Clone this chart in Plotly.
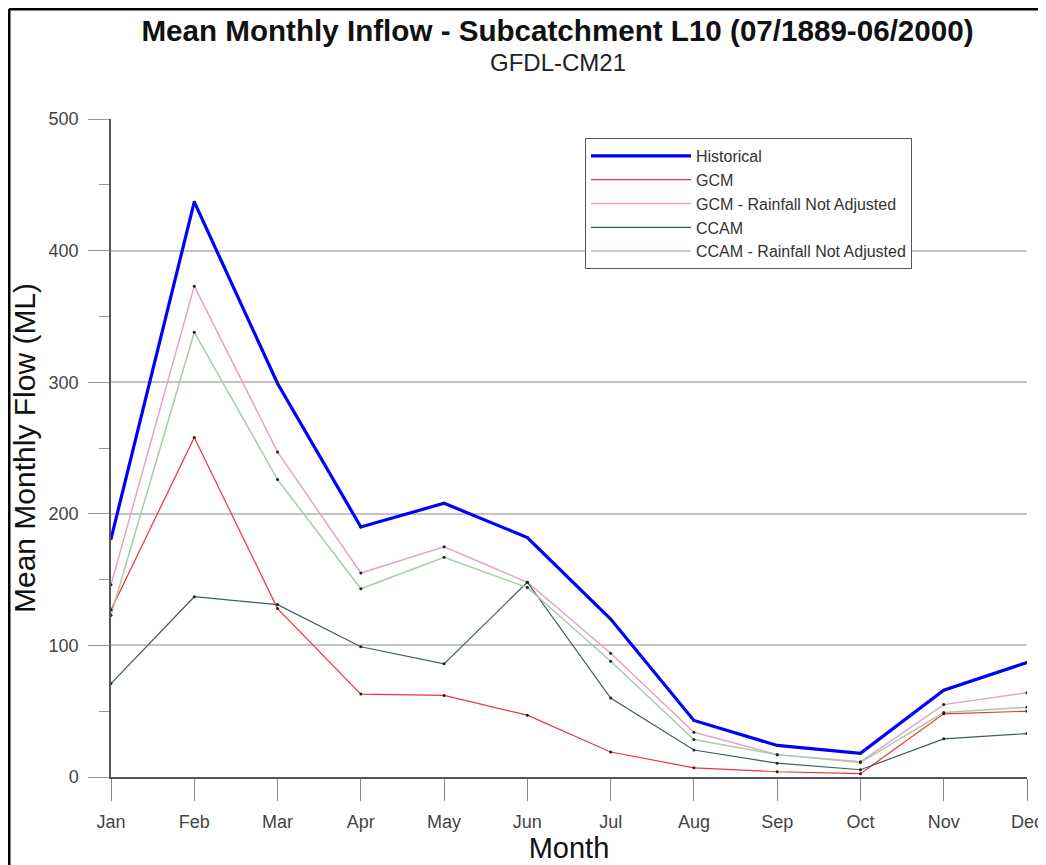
import plotly.graph_objects as go

months = ["Jan", "Feb", "Mar", "Apr", "May", "Jun", "Jul", "Aug", "Sep", "Oct", "Nov", "Dec"]
historical = [181, 437, 299, 190, 208, 182, 120, 43, 24, 18, 66, 87]
gcm = [127, 258, 128, 63, 62, 47, 19, 7, 4, 2.5, 48, 50]
gcm_rna = [146, 373, 247, 155, 175, 148, 94, 34, 17, 11.5, 55, 64]
ccam = [71, 137, 131, 99, 86, 148, 60, 20.5, 10.5, 5.5, 29, 33]
ccam_rna = [123, 338, 226, 143, 167, 144, 88, 28.5, 17, 11, 49, 53]

series = [
    ("Historical", historical, "#0000FF", 3.2),
    ("GCM", gcm, "#EE3535", 1.2),
    ("GCM - Rainfall Not Adjusted", gcm_rna, "#E2A6CC", 1.5),
    ("CCAM", ccam, "#3E5E5A", 1.2),
    ("CCAM - Rainfall Not Adjusted", ccam_rna, "#A9CBA8", 1.5),
]

FONT = "Liberation Sans, Arial, sans-serif"
xs = list(range(len(months)))

fig = go.Figure()
for name, vals, color, w in series:
    fig.add_trace(go.Scatter(
        x=xs, y=vals, name=name, mode="lines",
        line=dict(color=color, width=w), legendgroup=name,
    ))
for name, vals, color, w in series:
    fig.add_trace(go.Scatter(
        x=xs, y=vals, name=name, mode="markers", showlegend=False,
        legendgroup=name, hoverinfo="skip",
        marker=dict(color="#222222", size=3, line=dict(width=0)),
    ))

# the page places the figure 8px from the window's top-left corner
OFF = 8
W, H = 1046 - OFF, 865 - OFF
L, T = 111 - OFF, 119 - OFF
R = W - (1027 - OFF)
B = H - (777 - OFF)
pw, ph = W - L - R, H - T - B

def px2x(px):
    # px: reference (window) pixel
    return (px - OFF - L) / pw

def py2y(py):
    return (H - B - (py - OFF)) / ph

fig.update_layout(
    width=W, height=H,
    margin=dict(l=L, r=R, t=T, b=B, pad=0),
    paper_bgcolor="white", plot_bgcolor="white",
    font=dict(family=FONT, color="#333333"),
    title=dict(
        text="<b>Mean Monthly Inflow - Subcatchment L10 (07/1889-06/2000)</b>",
        font=dict(size=29.6, color="#111111", family=FONT),
        x=(557.5 - OFF) / W, xanchor="center", xref="container",
        y=1 - (31 - OFF) / H, yanchor="middle", yref="container",
    ),
    showlegend=True,
    legend=dict(
        x=px2x(585), y=py2y(138), xanchor="left", yanchor="top",
        bgcolor="white", bordercolor="#555555", borderwidth=1,
        font=dict(size=16, color="#333333", family=FONT),
        itemwidth=100, tracegroupgap=0,
    ),
    xaxis=dict(
        range=[0, 11], tickvals=xs, ticktext=months,
        showgrid=False, zeroline=False,
        showline=True, linecolor="#555555", linewidth=1.5,
        ticks="outside", ticklen=22, tickcolor="#888888", tickwidth=1.2,
        tickfont=dict(size=18, color="#444444"),
        ticklabelstandoff=6,
        title=dict(text="Month", font=dict(size=29, color="#111111"), standoff=2),
        automargin=False,
    ),
    yaxis=dict(
        range=[0, 500], tickvals=[0, 100, 200, 300, 400, 500],
        showgrid=True, gridcolor="#C4C4C4", gridwidth=1.6,
        zeroline=False,
        showline=True, linecolor="#555555", linewidth=1.5,
        ticks="outside", ticklen=21, tickcolor="#999999", tickwidth=1.2,
        tickfont=dict(size=18, color="#444444"),
        ticklabelstandoff=6,
        minor=dict(tickvals=[50, 150, 250, 350, 450], ticks="outside", ticklen=10,
                   tickcolor="#999999", tickwidth=1.2, showgrid=False),
        title=dict(text="Mean Monthly Flow (ML)", font=dict(size=30, color="#111111"), standoff=10),
        automargin=False,
    ),
)

fig.add_annotation(
    text="GFDL-CM21", xref="paper", yref="paper",
    x=px2x(558), y=py2y(62), xanchor="center", yanchor="middle",
    showarrow=False, font=dict(size=24, color="#222222", family=FONT),
)

# outer frame (left and top edges visible in reference)
fig.add_shape(type="line", xref="paper", yref="paper",
              x0=px2x(9), x1=px2x(9), y0=py2y(880), y1=py2y(9),
              line=dict(color="black", width=3))
fig.add_shape(type="line", xref="paper", yref="paper",
              x0=px2x(9), x1=px2x(1060), y0=py2y(9), y1=py2y(9),
              line=dict(color="black", width=3))

fig.write_html("out.html")
